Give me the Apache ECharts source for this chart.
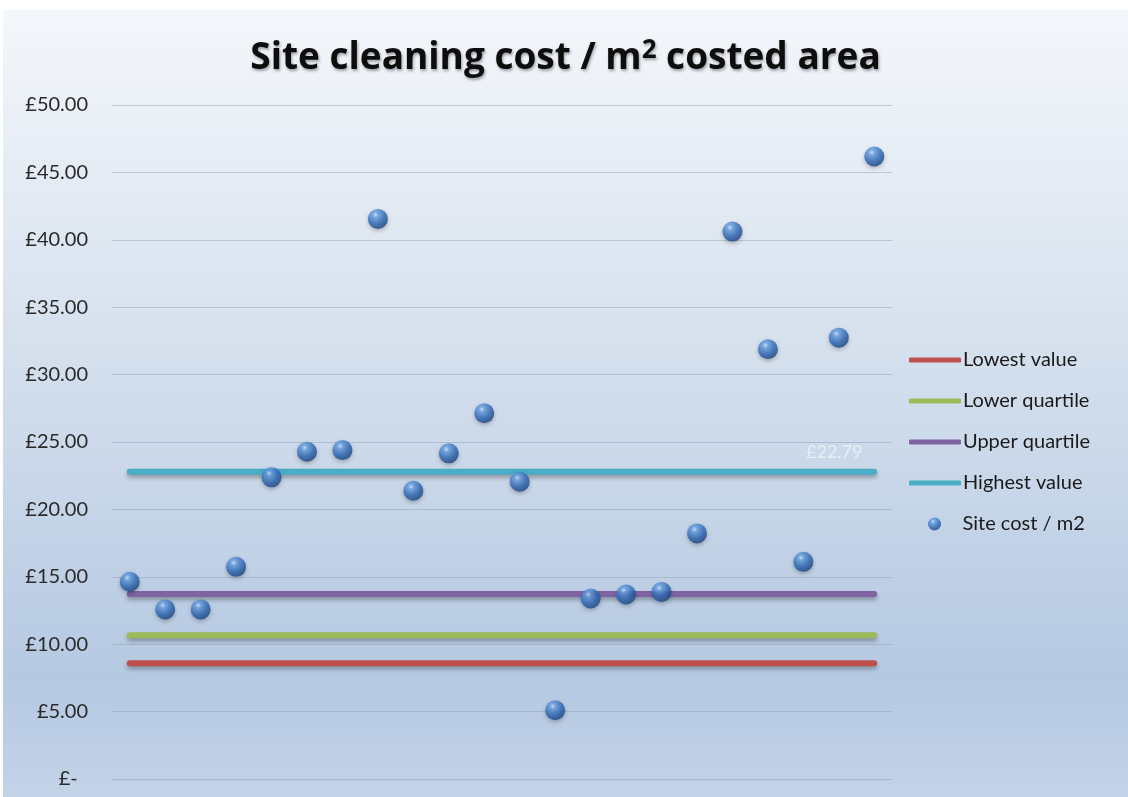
<!DOCTYPE html>
<html>
<head>
<meta charset="utf-8">
<script src="https://cdn.jsdelivr.net/npm/echarts@6/dist/echarts.min.js"></script>
<style>
  html, body { margin: 0; padding: 0; background: #ffffff; }
  #main { position: absolute; left: 3px; top: 10px; width: 1125px; height: 787px; }
</style>
</head>
<body>
<div id="main"></div>
<script>
// sites along the x axis (labels are not shown on the chart)
const categories = ['1', '2', '3', '4', '5', '6', '7', '8', '9', '10', '11',
  '12', '13', '14', '15', '16', '17', '18', '19', '20', '21', '22'];

// site cost per m2
const siteCost = [14.63, 12.58, 12.58, 15.74, 22.38, 24.28, 24.40, 41.55, 21.38, 24.16, 27.13,
  22.05, 5.10, 13.39, 13.69, 13.88, 18.22, 40.61, 31.88, 16.11, 32.74, 46.18];

// benchmark values (flat lines)
const lowestValue = 8.59;
const lowerQuartile = 10.67;
const upperQuartile = 13.73;
const highestValue = 22.79;

const yTicks = [0, 5, 10, 15, 20, 25, 30, 35, 40, 45, 50];

const font = 'Lato';

function flatLine(name, value, color, withLabel) {
  return {
    name: name,
    type: 'line',
    data: categories.map(() => value),
    symbol: 'circle',
    symbolSize: 0.1,
    showSymbol: true,
    z: 2,
    lineStyle: {
      color: color,
      width: 6,
      cap: 'round',
      shadowColor: 'rgba(0,0,0,0.3)',
      shadowBlur: 4,
      shadowOffsetY: 3
    },
    itemStyle: { color: color },
    label: withLabel ? {
      show: true,
      position: 'top',
      offset: [-40, -6],
      color: 'rgba(255,255,255,0.55)',
      fontFamily: font,
      fontSize: 18,
      formatter: p => p.dataIndex === categories.length - 1 ? '£' + p.value.toFixed(2) : ''
    } : { show: false },
    emphasis: { disabled: true }
  };
}

const ballColor = new echarts.graphic.RadialGradient(0.38, 0.3, 0.75, [
  { offset: 0, color: '#d2e8ff' },
  { offset: 0.18, color: '#6aa3e6' },
  { offset: 0.6, color: '#2d69b6' },
  { offset: 1, color: '#1a3f7a' }
]);

const legendText = { fontFamily: font, fontSize: 20, color: '#1a1a1a', lineHeight: 20, padding: [0, 0, 0, -3] };

const chart = echarts.init(document.getElementById('main'));
chart.setOption({
  backgroundColor: new echarts.graphic.LinearGradient(0, 0, 0, 1, [
    { offset: 0, color: '#f4f7fb' },
    { offset: 0.45, color: '#d4dfed' },
    { offset: 0.85, color: '#b5c9e2' },
    { offset: 1, color: '#c3d3e8' }
  ]),
  animation: false,
  title: {
    text: 'Site cleaning cost / m{sup|2} costed area',
    left: 'center',
    top: 19,
    textStyle: {
      fontFamily: 'Open Sans',
      fontWeight: 'bold',
      fontSize: 37,
      lineHeight: 48,
      color: '#0d0d0d',
      textShadowColor: 'rgba(0,0,0,0.35)',
      textShadowBlur: 3,
      textShadowOffsetX: 1,
      textShadowOffsetY: 2,
      rich: {
        sup: {
          fontFamily: 'Open Sans',
          fontWeight: 'bold',
          fontSize: 26,
          lineHeight: 48,
          padding: [0, 0, 15, 0],
          color: '#0d0d0d',
          textShadowColor: 'rgba(0,0,0,0.35)',
          textShadowBlur: 3,
          textShadowOffsetX: 1,
          textShadowOffsetY: 2
        }
      }
    }
  },
  legend: [
    {
      orient: 'vertical',
      left: 901,
      top: 335,
      itemWidth: 52,
      itemHeight: 5,
      itemGap: 21,
      icon: 'roundRect',
      textStyle: legendText,
      data: ['Lowest value', 'Lower quartile', 'Upper quartile', 'Highest value']
    },
    {
      orient: 'vertical',
      left: 920,
      top: 499,
      itemWidth: 52,
      itemHeight: 13,
      icon: 'circle',
      textStyle: legendText,
      data: ['Site cost / m2']
    }
  ],
  grid: { left: 109, right: 236, top: 95, bottom: 18, containLabel: false },
  xAxis: {
    type: 'category',
    data: categories,
    boundaryGap: true,
    axisLabel: { show: false },
    axisTick: { show: false },
    axisLine: { show: true, lineStyle: { color: '#a7b8cf', width: 1 } }
  },
  yAxis: {
    type: 'value',
    min: yTicks[0],
    max: yTicks[yTicks.length - 1],
    interval: 5,
    axisLine: { show: false },
    axisTick: { show: false },
    splitLine: { lineStyle: { color: 'rgba(140,155,180,0.45)', width: 1 } },
    axisLabel: {
      fontFamily: font,
      fontSize: 20,
      color: '#2a2a2a',
      margin: 24,
      formatter: v => v === 0 ? '£-  ' : '£' + v.toFixed(2)
    }
  },
  series: [
    flatLine('Lowest value', lowestValue, '#c0504d', false),
    flatLine('Lower quartile', lowerQuartile, '#9bbb59', false),
    flatLine('Upper quartile', upperQuartile, '#8064a2', false),
    flatLine('Highest value', highestValue, '#4bacc6', true),
    {
      name: 'Site cost / m2',
      type: 'scatter',
      data: siteCost,
      symbol: 'circle',
      symbolSize: 20,
      z: 3,
      itemStyle: {
        color: ballColor,
        shadowColor: 'rgba(0,0,0,0.3)',
        shadowBlur: 4,
        shadowOffsetY: 2
      },
      emphasis: { disabled: true }
    }
  ]
});
</script>
</body>
</html>
